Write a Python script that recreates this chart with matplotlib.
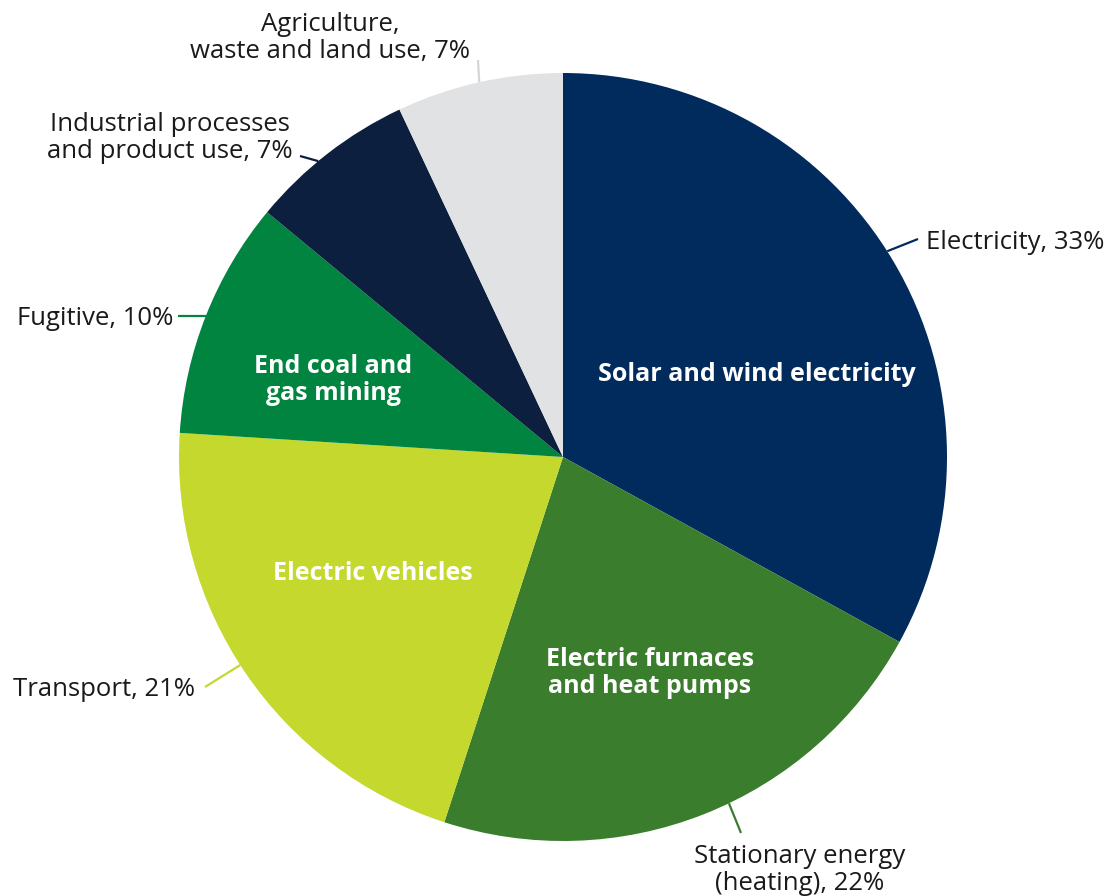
import matplotlib.pyplot as plt
import numpy as np

plt.rcParams['font.family'] = ['Open Sans', 'DejaVu Sans']

# 各排放部门占比及对应的减排方案
sectors = ['Electricity', 'Stationary energy\n(heating)', 'Transport', 'Fugitive',
           'Industrial processes\nand product use', 'Agriculture,\nwaste and land use']
shares = [33, 22, 21, 10, 7, 7]
solutions = ['Solar and wind electricity', 'Electric furnaces\nand heat pumps',
             'Electric vehicles', 'End coal and\ngas mining', '', '']
colors = ['#002B5C', '#3A7D2C', '#C4D82E', '#00843F', '#0C1F3F', '#E1E2E4']

W, H = 1111, 896
CX, CY, R = 563, 457, 384  # 像素坐标（原点在左上）


def px(x, y):
    return x, H - y


# 外部标签布局: 文字位置, 对齐, 引线终点, 引线起点角度偏移
outer_layout = [
    dict(xy=(926, 242), ha='left', va='center', end=(918, 239), dang=1.8),
    dict(xy=(800, 870), ha='center', va='center', end=(741, 833), dang=4.0),
    dict(xy=(195, 690), ha='right', va='center', end=(205, 687), dang=-1.4),
    dict(xy=(173, 318), ha='right', va='center', end=(178, None), dang=0.0),
    dict(xy=(293, 138), ha='right', va='center', end=(300, 156), dang=1.8),
    dict(xy=(330, 38), ha='center', va='center', end=(478, 60), dang=0.0),
]
inner_pos = [(757, 374), (650, 673), (373, 573), (333, 380), None, None]

fig = plt.figure(figsize=(W / 100, H / 100), dpi=100)
ax = fig.add_axes([0, 0, 1, 1])

wedges, _ = ax.pie(shares, colors=colors, startangle=90, counterclock=False,
                   center=px(CX, CY), radius=R, wedgeprops=dict(linewidth=0))
ax.set_xlim(0, W)
ax.set_ylim(0, H)
ax.axis('off')

for w, name, share, lay, sol, ipos, col in zip(wedges, sectors, shares, outer_layout,
                                               solutions, inner_pos, colors):
    mid = np.deg2rad((w.theta1 + w.theta2) / 2 + lay['dang'])
    x0 = CX + R * np.cos(mid)
    y0 = CY - R * np.sin(mid)
    ex, ey = lay['end']
    if ey is None:
        ey = y0
    ax.plot([x0, ex], [H - y0, H - ey], color=col if col != '#E1E2E4' else '#D5D6D8',
            lw=1.6, solid_capstyle='butt')
    ax.text(*px(*lay['xy']), f'{name}, {share}%', ha=lay['ha'], va=lay['va'],
            multialignment='center', fontsize=18.5, color='#1A1A1A', linespacing=1.12)
    if sol:
        ax.text(*px(*ipos), sol, ha='center', va='center', multialignment='center',
                fontsize=18, fontweight='bold', color='white', linespacing=1.15)

fig.savefig('out.png', dpi=100)
